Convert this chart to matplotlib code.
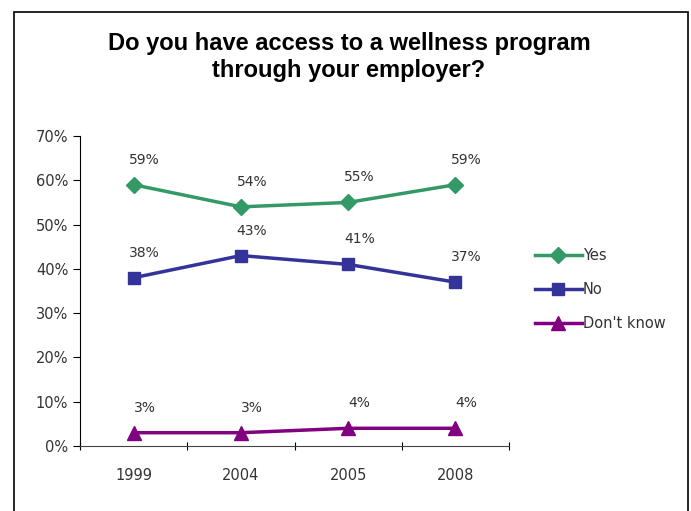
import matplotlib.pyplot as plt
from matplotlib.patches import Rectangle
from matplotlib.ticker import PercentFormatter

years = ["1999", "2004", "2005", "2008"]
yes = [59, 54, 55, 59]
no = [38, 43, 41, 37]
dont_know = [3, 3, 4, 4]
yes_labels = ["59%", "54%", "55%", "59%"]
no_labels = ["38%", "43%", "41%", "37%"]
dk_labels = ["3%", "3%", "4%", "4%"]

series = [
    ("Yes", yes, yes_labels, "#339966", "D", 8),
    ("No", no, no_labels, "#333399", "s", 9),
    ("Don't know", dont_know, dk_labels, "#800080", "^", 10),
]

plt.rcParams['font.family'] = ['DejaVu Sans']
text_color = "#333333"

fig = plt.figure(figsize=(6.91, 5.11), dpi=100)
ax = fig.add_axes([80 / 691, 1 - 446 / 511, 429 / 691, 310 / 511])

x = list(range(len(years)))
for name, vals, labels, color, marker, ms in series:
    ax.plot(x, vals, color=color, marker=marker, markersize=ms, linewidth=2.5, label=name)
    # data labels sit above and slightly right of each marker
    for xi, v, lab in zip(x, vals, labels):
        ax.annotate(lab, (xi, v), xytext=(8, 18), textcoords="offset points",
                    ha="center", va="center", fontsize=10, color=text_color)

ax.set_xlim(-0.5, 3.5)
ax.set_ylim(0, 70)
ax.set_yticks(range(0, 71, 10))
ax.yaxis.set_major_formatter(PercentFormatter(decimals=0))
ax.set_xticks([i - 0.5 for i in range(len(years) + 1)])
ax.set_xticklabels([])
ax.set_xticks(x, minor=True)
ax.set_xticklabels(years, minor=True)
ax.tick_params(axis="x", which="minor", length=0, pad=16, labelsize=10.5, labelcolor=text_color)
ax.tick_params(axis="x", which="major", length=6, direction="inout")
ax.tick_params(axis="y", length=5, labelsize=10.5, labelcolor=text_color)
for s in ["top", "right"]:
    ax.spines[s].set_visible(False)
ax.spines["left"].set_color("black")
ax.spines["bottom"].set_color("#444444")

ax.legend(loc="upper left", bbox_to_anchor=(1.03, 0.68), frameon=False,
          fontsize=10.5, handlelength=3.2, labelspacing=1.3, handletextpad=0.1,
          labelcolor=text_color)

fig.text(0.505, 1 - 57 / 511, "Do you have access to a wellness program\nthrough your employer?",
         ha="center", va="center", fontsize=17, fontweight="bold",
         family="Liberation Sans", linespacing=1.27)

fig.patches.append(Rectangle((14 / 691, -0.05), 674 / 691, 1 - 12 / 511 + 0.05,
                             transform=fig.transFigure, fill=False,
                             edgecolor="black", linewidth=1.2))

fig.savefig("out.png", dpi=100)
